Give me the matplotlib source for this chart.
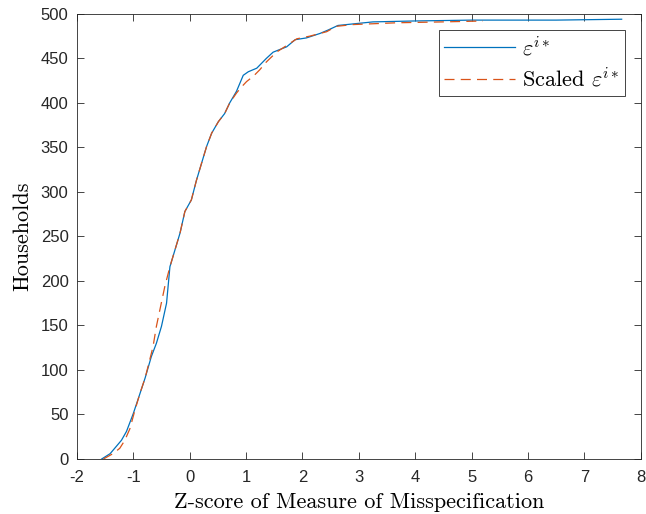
import matplotlib.pyplot as plt

plt.rcParams['font.family'] = ['Liberation Sans', 'DejaVu Sans']
plt.rcParams['mathtext.fontset'] = 'cm'
plt.rcParams['axes.unicode_minus'] = False

# 经验分布曲线（从图上读取的点）
eps_x = [-1.56, -1.41, -1.33, -1.21, -1.12, -1.00, -0.91, -0.79, -0.68, -0.59,
         -0.50, -0.41, -0.35, -0.26, -0.17, -0.085, 0.03, 0.12, 0.21, 0.30,
         0.39, 0.51, 0.62, 0.71, 0.83, 0.95, 1.04, 1.19, 1.36, 1.48,
         1.72, 1.87, 2.07, 2.31, 2.46, 2.63, 3.25, 3.96, 5.0, 6.5, 7.66]
eps_y = [0, 6, 12, 21, 31, 51, 68, 91, 115, 130,
         149, 175, 216, 235, 254, 278, 291, 313, 332, 351,
         366, 379, 388, 400, 413, 431, 435, 439, 450, 457,
         463, 471, 473, 478, 482, 487, 491, 492, 493, 493, 494]

scaled_x = [-1.53, -1.36, -1.24, -1.15, -1.06, -0.97, -0.88, -0.79, -0.71, -0.65,
            -0.59, -0.53, -0.44, -0.35, -0.26, -0.17, -0.085, 0.03, 0.12, 0.21,
            0.30, 0.39, 0.51, 0.62, 0.71, 0.83, 0.92, 1.01, 1.13, 1.24,
            1.36, 1.54, 1.78, 1.90, 2.13, 2.43, 2.60, 2.90, 3.67, 4.5, 5.2]
scaled_y = [0, 6, 12, 21, 34, 55, 74, 91, 111, 126,
            149, 167, 194, 216, 235, 254, 278, 291, 313, 332,
            351, 366, 379, 388, 400, 411, 418, 424, 430, 437,
            446, 457, 467, 472, 475, 480, 486, 488, 490, 491, 492]

fig = plt.figure(figsize=(6.46, 5.14), dpi=100)
ax = fig.add_axes([0.119, 0.107, 0.873, 0.866])

ax.plot(eps_x, eps_y, color=(0, 0.447, 0.741), lw=0.9, label=r'$\varepsilon^{i*}$')
ax.plot(scaled_x, scaled_y, color=(0.85, 0.325, 0.098), lw=0.9, ls=(0, (8, 5)),
        label=r'Scaled $\varepsilon^{i*}$')

ax.set_xlim(-2, 8)
ax.set_ylim(0, 500)
ax.set_xticks(range(-2, 9))
ax.set_yticks(range(0, 501, 50))
ax.tick_params(direction='in', top=True, right=True, length=5, width=0.6,
               labelsize=12, colors=(0.15, 0.15, 0.15))
ax.tick_params(axis='x', pad=8)
ax.tick_params(axis='y', pad=6)
for s in ax.spines.values():
    s.set_linewidth(0.6)
    s.set_color((0.15, 0.15, 0.15))

ax.set_xlabel('Z-score of Measure of Misspecification', family='cmr10', fontsize=16, labelpad=5)
ax.set_ylabel('Households', family='cmr10', fontsize=16, labelpad=6)

leg = ax.legend(loc='upper right', bbox_to_anchor=(0.972, 0.964), borderaxespad=0,
                fancybox=False, edgecolor=(0.15, 0.15, 0.15), framealpha=1,
                handlelength=3.2, prop={'family': 'cmr10', 'size': 16},
                borderpad=0.25, labelspacing=0.35, handletextpad=0.3)
leg.get_frame().set_linewidth(0.6)

fig.savefig('out.png', dpi=100)
